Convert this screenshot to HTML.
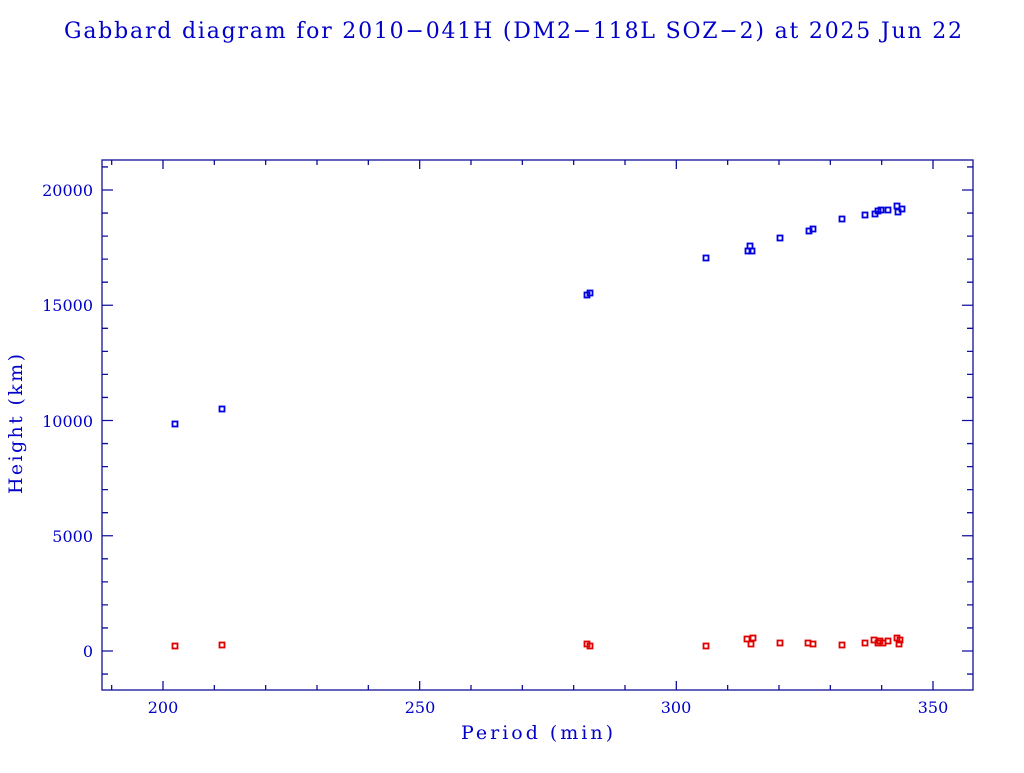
<!DOCTYPE html>
<html><head><meta charset="utf-8"><style>html,body{margin:0;padding:0;background:#fff}</style></head>
<body>
<svg width="1024" height="768" xmlns="http://www.w3.org/2000/svg" font-family="DejaVu Serif, Liberation Serif, serif" fill="#0000c8">
<text x="64" y="38" font-size="22" textLength="898" lengthAdjust="spacing">Gabbard diagram for 2010−041H (DM2−118L SOZ−2) at 2025 Jun 22</text>
<g stroke="#10109a" stroke-width="1.3" fill="none">
<rect x="102" y="160" width="871" height="530"/>
</g>
<g id="ticks" stroke="#10109a" stroke-width="1.3"></g>
<g font-size="16" text-anchor="middle">
<text x="163" y="713">200</text><text x="420" y="713">250</text><text x="676" y="713">300</text><text x="933" y="713">350</text>
<text x="537" y="739" font-size="19" textLength="152" lengthAdjust="spacing">Period (min)</text>
</g>
<g font-size="16" text-anchor="end">
<text x="93" y="196">20000</text><text x="93" y="311">15000</text><text x="93" y="427">10000</text><text x="93" y="542">5000</text><text x="93" y="657">0</text>
</g>
<text font-size="19" transform="translate(22,424) rotate(-90)" text-anchor="middle" textLength="140" lengthAdjust="spacing">Height (km)</text>
<g id="pts" fill="none" stroke-width="1.8"></g>
</svg>
<script>
var ns="http://www.w3.org/2000/svg",t=document.getElementById("ticks"),s="";
function X(p){return 163+(p-200)*5.1333}function Y(h){return 651-h*0.02305}
for(var p=190;p<=350;p+=10){var x=X(p),L=(p%50==0)?9:5;s+="M"+x+" 690v-"+L+"M"+x+" 160v"+L;}
for(var h=-1000;h<=21000;h+=1000){var y=Y(h),L=(h%5000==0)?11:6;s+="M102 "+y+"h"+L+"M973 "+y+"h-"+L;}
var pa=document.createElementNS(ns,"path");pa.setAttribute("d",s);t.appendChild(pa);
var B=[[175,424],[222,409],[587,295],[590,293],[706,258],[750,246],[748,251],[752,251],[780,238],[809,231],[813,229],[842,219],[865,215],[875,214],[878,211],[881,210],[888,210],[897,206],[898,212],[902,209]];
var R=[[175,646],[222,645],[587,644],[590,646],[706,646],[747,639],[751,644],[753,638],[780,643],[808,643],[813,644],[842,645],[865,643],[874,640],[878,643],[880,641],[883,643],[888,641],[897,638],[899,644],[900,640]];
var g=document.getElementById("pts");
function add(a,c){a.forEach(function(q){var r=document.createElementNS(ns,"rect");r.setAttribute("x",q[0]-2.5);r.setAttribute("y",q[1]-2.5);r.setAttribute("width",5);r.setAttribute("height",5);r.setAttribute("stroke",c);g.appendChild(r);});}
add(B,"#0000e0");add(R,"#e00000");
</script>
</body></html>
